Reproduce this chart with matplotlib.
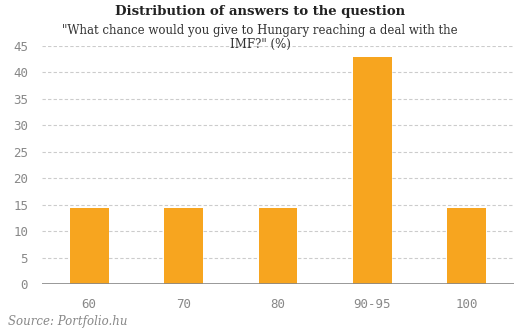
import matplotlib
matplotlib.use("Agg")
import matplotlib.pyplot as plt

categories = ["60", "70", "80", "90-95", "100"]
values = [14.3, 14.3, 14.3, 42.9, 14.3]
yticks = [0, 5, 10, 15, 20, 25, 30, 35, 40, 45]

fig = plt.figure(figsize=(5.2, 3.33), dpi=100)
ax = fig.add_axes([42 / 520, 1 - 284 / 333, 472 / 520, 238 / 333])

x = range(len(categories))
ax.bar(x, values, width=0.41, color="#f7a51f", zorder=2)
ax.set_xlim(-0.5, len(categories) - 0.5)
ax.set_ylim(0, 45)
ax.set_yticks(yticks)
ax.set_xticks(list(x))
ax.set_xticklabels(categories)

for y in yticks[1:]:
    ax.axhline(y, color="#cccccc", lw=0.8, ls=(0, (3, 2)), zorder=1)
ax.axhline(0, color="#888888", lw=1.2, zorder=3)

for s in ax.spines.values():
    s.set_visible(False)
ax.tick_params(length=0, colors="#888888", labelsize=9)
ax.tick_params(axis="x", pad=10)
ax.tick_params(axis="y", pad=10)
for lab in ax.get_xticklabels() + ax.get_yticklabels():
    lab.set_family("DejaVu Sans Mono")

fig.text(0.5, 1 - 12 / 333, "Distribution of answers to the question",
         ha="center", va="center", fontsize=9.5, fontweight="bold",
         family="DejaVu Serif", color="#222222")
fig.text(0.5, 1 - 37.5 / 333,
         "\"What chance would you give to Hungary reaching a deal with the\nIMF?\" (%)",
         ha="center", va="center", fontsize=8.5, family="DejaVu Serif",
         color="#333333", linespacing=1.1)
fig.text(8 / 520, 1 - 321 / 333, "Source: Portfolio.hu", ha="left", va="center",
         fontsize=8.5, style="italic", family="DejaVu Serif", color="#888888")

fig.savefig("out.png", dpi=100)
